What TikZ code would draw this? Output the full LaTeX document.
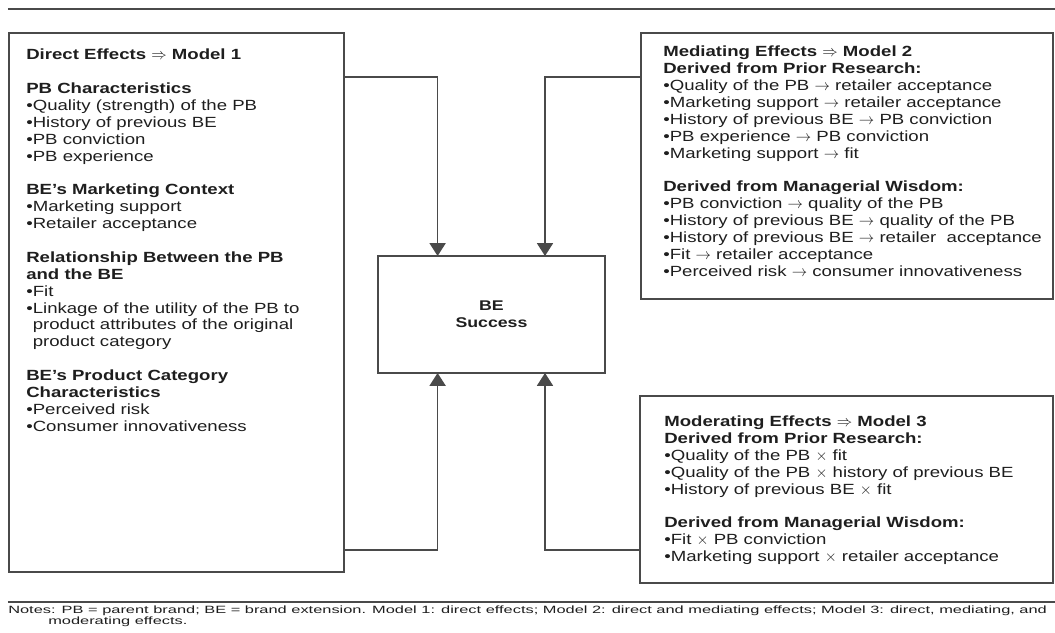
\documentclass[tikz,border=0pt]{standalone}
\usepackage{fontspec}
\setmainfont{Liberation Sans}[FakeStretch=1.26]
\newfontfamily\notesfont{Liberation Sans}[FakeStretch=1.555]
\usetikzlibrary{arrows.meta}
\definecolor{FigureInk}{HTML}{1E1E1E}
\definecolor{LineInk}{HTML}{4A4A4A}
\newcommand{\Item}[1]{\textbullet#1}
\tikzset{
  figure/.style={font=\fontsize{10.5}{12}\selectfont,text=FigureInk},
  panel/.style={draw=LineInk,line width=1pt,inner sep=0pt,outer sep=0pt,anchor=north west},
  listtext/.style={inner sep=0pt,anchor=base west},
  flow/.style={-{Triangle[length=3.2mm,width=4mm]},line width=1pt,draw=LineInk},
  rule/.style={line width=1.2pt,draw=LineInk},
}

\begin{document}
\begin{tikzpicture}[figure]
  \useasboundingbox (0,0) rectangle (26.375,15.825);
  \draw[rule] (0.2,15.6) -- (26.375,15.6);

  \node[panel,minimum width=8.375cm,minimum height=13.475cm] (direct) at (0.225,15.0) {};
  \node[listtext] (directtext) at (0.65,14.325) {%
    \begin{minipage}[t]{7.8cm}\raggedright
      \textbf{Direct Effects $\Rightarrow$ Model 1}\\[12pt]
      \textbf{PB Characteristics}\\
      \Item{Quality (strength) of the PB}\\
      \Item{History of previous BE}\\
      \Item{PB conviction}\\
      \Item{PB experience}\\[12pt]
      \textbf{BE’s Marketing Context}\\
      \Item{Marketing support}\\
      \Item{Retailer acceptance}\\[12pt]
      \textbf{Relationship Between the PB}\\
      \textbf{and the BE}\\
      \Item{Fit}\\
      \Item{Linkage of the utility of the PB to}\\
      \phantom{\textbullet}product attributes of the original\\
      \phantom{\textbullet}product category\\[12pt]
      \textbf{BE’s Product Category}\\
      \textbf{Characteristics}\\
      \Item{Perceived risk}\\
      \Item{Consumer innovativeness}
    \end{minipage}};

  \node[panel,minimum width=5.675cm,minimum height=2.925cm] (success) at (9.45,9.425) {};
  \node[font=\bfseries,align=center] (successtext) at (success.center) {BE\\Success};

  \node[panel,minimum width=10.3cm,minimum height=6.65cm] (mediating) at (16.025,15.0) {};
  \node[listtext] (mediatingtext) at (16.575,14.4) {%
    \begin{minipage}[t]{9.6cm}\raggedright
      \textbf{Mediating Effects $\Rightarrow$ Model 2}\\
      \textbf{Derived from Prior Research:}\\
      \Item{Quality of the PB $\rightarrow$ retailer acceptance}\\
      \Item{Marketing support $\rightarrow$ retailer acceptance}\\
      \Item{History of previous BE $\rightarrow$ PB conviction}\\
      \Item{PB experience $\rightarrow$ PB conviction}\\
      \Item{Marketing support $\rightarrow$ fit}\\[12pt]
      \textbf{Derived from Managerial Wisdom:}\\
      \Item{PB conviction $\rightarrow$ quality of the PB}\\
      \Item{History of previous BE $\rightarrow$ quality of the PB}\\
      \Item{History of previous BE $\rightarrow$ retailer\ \ acceptance}\\
      \Item{Fit $\rightarrow$ retailer acceptance}\\
      \Item{Perceived risk $\rightarrow$ consumer innovativeness}
    \end{minipage}};

  \node[panel,minimum width=10.325cm,minimum height=4.675cm] (moderating) at (16.0,5.925) {};
  \node[listtext] (moderatingtext) at (16.6,5.1575) {%
    \begin{minipage}[t]{9.6cm}\raggedright
      \textbf{Moderating Effects $\Rightarrow$ Model 3}\\
      \textbf{Derived from Prior Research:}\\
      \Item{Quality of the PB $\times$ fit}\\
      \Item{Quality of the PB $\times$ history of previous BE}\\
      \Item{History of previous BE $\times$ fit}\\[12pt]
      \textbf{Derived from Managerial Wisdom:}\\
      \Item{Fit $\times$ PB conviction}\\
      \Item{Marketing support $\times$ retailer acceptance}
    \end{minipage}};

  % elbow points of the four connectors
  \coordinate (d1) at (10.94,13.9);
  \coordinate (m1) at (13.625,13.9);
  \coordinate (d2) at (10.94,2.075);
  \coordinate (m2) at (13.625,2.075);
  \draw[flow] (direct.east |- d1) -- (d1) -- (success.north -| d1);
  \draw[flow] (mediating.west |- m1) -- (m1) -- (success.north -| m1);
  \draw[flow] (direct.east |- d2) -- (d2) -- (success.south -| d2);
  \draw[flow] (moderating.west |- m2) -- (m2) -- (success.south -| m2);

  \draw[rule] (0.2,0.775) -- (26.375,0.775);
  \node[listtext,font=\notesfont\fontsize{7.5}{8}\selectfont] (notes) at (0.2,0.475)
    {Notes: PB = parent brand; BE = brand extension. Model 1: direct effects; Model 2: direct and mediating effects; Model 3: direct, mediating, and};
  \node[listtext,font=\notesfont\fontsize{7.5}{8}\selectfont] (notesmore) at (1.2,0.2)
    {moderating effects.};
\end{tikzpicture}
\end{document}
